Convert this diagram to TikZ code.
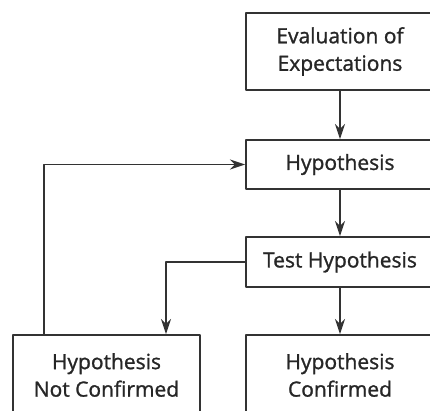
\documentclass[tikz,border=0pt]{standalone}
\usepackage{fontspec}
\setmainfont{Open Sans}[FakeBold=1.2]
\usetikzlibrary{arrows.meta}
\begin{document}
\begin{tikzpicture}[x=1pt, y=-1pt, line join=round, >={Stealth[length=15pt,width=10pt]},
	khung/.style={draw=black!80, line width=1.9pt, align=center, inner sep=0pt, minimum width=188pt, text=black!85},
	muiten/.style={->, draw=black!80, line width=1.9pt}]
	\fontsize{21}{27.5}\selectfont
	\clip (0,0) rectangle (430,411);
	\def\cot{340} % cột phải
	% các khối
	\node[khung, minimum height=77pt] (eval) at (\cot,51.5) {Evaluation of\\Expectations};
	\node[khung, minimum height=49pt] (hyp) at (\cot,164.5) {Hypothesis};
	\node[khung, minimum height=50pt] (test) at (\cot,262) {Test Hypothesis};
	\node[khung, minimum height=80pt, minimum width=187pt] (notc) at (106.5,375) {Hypothesis\\Not Confirmed};
	\node[khung, minimum height=80pt] (conf) at (\cot,375) {Hypothesis\\Confirmed};
	% mũi tên
	\draw[muiten] (eval) -- (hyp);
	\draw[muiten] (hyp) -- (test);
	\draw[muiten] (test) -- (conf);
	\draw[muiten] (test.west) -| ([xshift=59.5pt]notc.north);
	\draw[muiten] ([xshift=-62.5pt]notc.north) |- (hyp.west);
\end{tikzpicture}
\end{document}
